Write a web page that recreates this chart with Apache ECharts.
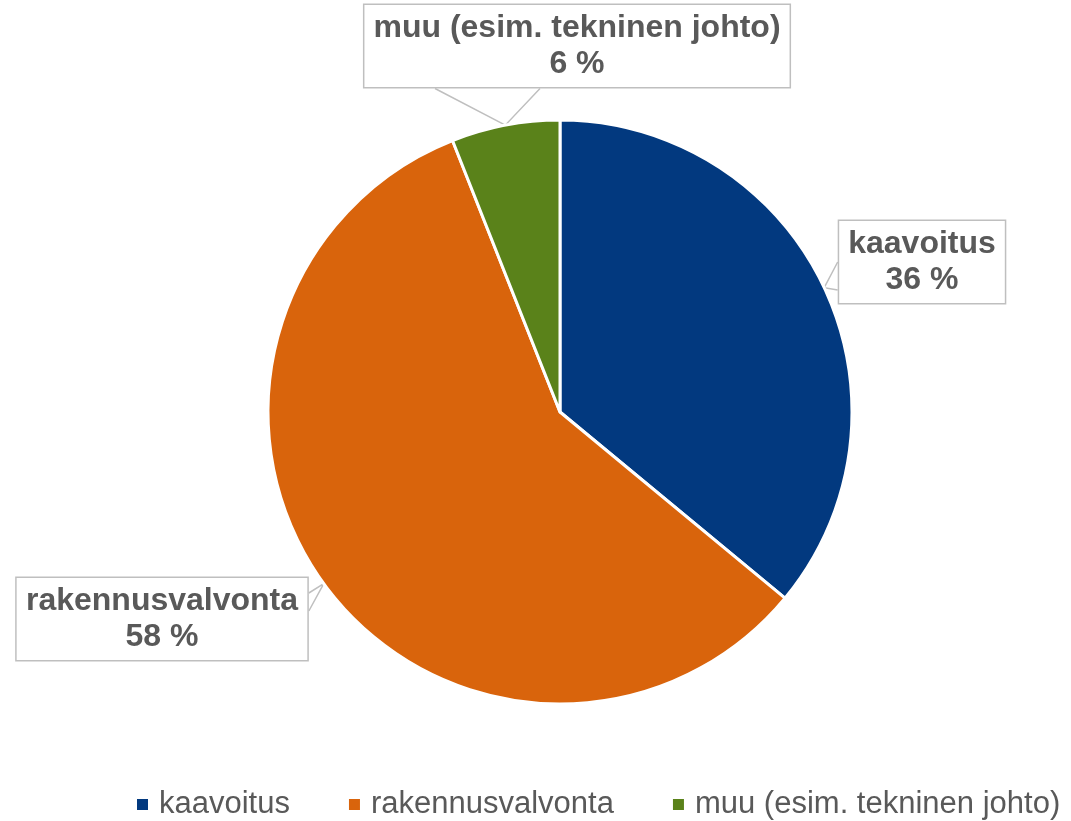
<!DOCTYPE html>
<html>
<head>
<meta charset="utf-8">
<script src="https://cdn.jsdelivr.net/npm/echarts@6/dist/echarts.min.js"></script>
<style>
  html, body { margin: 0; padding: 0; background: #fff; }
  #chart { width: 1071px; height: 821px; }
</style>
</head>
<body>
<div id="chart"></div>
<script>
// slice categories and their shares (%)
const categories = ["kaavoitus", "rakennusvalvonta", "muu (esim. tekninen johto)"];
const shares = [36, 58, 6];
const colors = ["#02397F", "#D9640C", "#5A821A"];

// callout box centres, same order as categories
const calloutPos = [[922, 262], [162, 619], [577, 46]];
// which box edge the callout pointer leaves from, and where along it (px from centre)
const pointerSide = ["left", "right", "bottom"];
const pointerSpan = [[0, 28], [-26, -8], [-142, -37]];

const textGrey = "#595959";
const fontFamily = "'Liberation Sans', Arial, sans-serif";

const chart = echarts.init(document.getElementById("chart"));

function calloutLayout(params) {
    const i = params.dataIndex;
    const c = calloutPos[i];
    const w = params.labelRect.width;
    const h = params.labelRect.height;
    const out = { x: c[0], y: c[1], align: "center", verticalAlign: "middle" };
    if (params.labelLinePoints) {
        const tip = params.labelLinePoints[0];
        const s = pointerSpan[i];
        let a, b;
        if (pointerSide[i] === "left") {
            a = [c[0] - w / 2, c[1] + s[0]];
            b = [c[0] - w / 2, c[1] + s[1]];
        } else if (pointerSide[i] === "right") {
            a = [c[0] + w / 2, c[1] + s[0]];
            b = [c[0] + w / 2, c[1] + s[1]];
        } else {
            a = [c[0] + s[0], c[1] + h / 2];
            b = [c[0] + s[1], c[1] + h / 2];
        }
        out.labelLinePoints = [a, [tip[0], tip[1]], b];
    }
    return out;
}

const option = {
    animation: false,
    color: colors,
    textStyle: { fontFamily: fontFamily },
    legend: {
        data: categories,
        left: 130,
        top: 784,
        icon: "rect",
        itemWidth: 13,
        itemHeight: 13,
        itemGap: 57,
        textStyle: {
            fontSize: 31,
            color: textGrey,
            fontFamily: fontFamily,
            padding: [0, 0, 0, 5],
        },
    },
    series: [
        {
            type: "pie",
            center: [560, 412],
            radius: 292,
            startAngle: 90,
            clockwise: true,
            percentPrecision: 0,
            itemStyle: {
                borderColor: "#fff",
                borderWidth: 3,
            },
            label: {
                show: true,
                position: "outside",
                formatter: "{b}\n{d} %",
                overflow: "none",
                fontSize: 32,
                fontWeight: "bold",
                color: textGrey,
                fontFamily: fontFamily,
                lineHeight: 36,
                align: "center",
                backgroundColor: "#fff",
                borderColor: "#bfbfbf",
                borderWidth: 1.5,
                padding: [9, 9, 1, 9],
            },
            labelLine: {
                show: true,
                length: 10,
                length2: 10,
                lineStyle: { color: "#bfbfbf", width: 1.5 },
            },
            labelLayout: calloutLayout,
            emphasis: { disabled: true },
            data: categories.map((name, i) => ({ name: name, value: shares[i] })),
        },
    ],
};

chart.setOption(option);
</script>
</body>
</html>
